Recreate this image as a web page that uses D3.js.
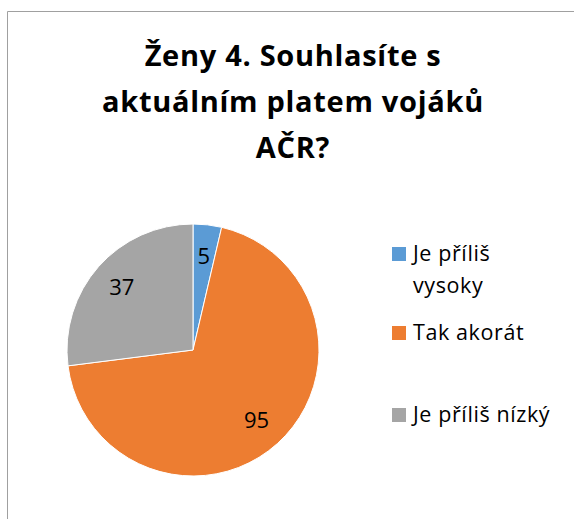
<!DOCTYPE html>
<html>
<head>
<meta charset="utf-8">
<script src="https://cdn.jsdelivr.net/npm/d3@7"></script>
<style>
  body { margin: 0; background: #fff; }
  svg text { font-family: "Open Sans", Lato, sans-serif; }
</style>
</head>
<body>
<svg id="chart" width="574" height="519"></svg>
<script>
// data
const categories = ["Je příliš vysoky", "Tak akorát", "Je příliš nízký"];
const values = [5, 95, 37];
const colors = ["#5b9bd5", "#ed7d31", "#a5a5a5"];
const titleLines = ["Ženy 4. Souhlasíte s", "aktuálním platem vojáků", "AČR?"];
const legendLines = [["Je příliš", "vysoky"], ["Tak akorát"], ["Je příliš nízký"]];

const svg = d3.select('#chart');

// frame (only left + top edge visible in the crop)
svg.append('path')
    .attr('d', 'M7.5,519 L7.5,11.5 L574,11.5')
    .attr('fill', 'none')
    .attr('stroke', '#a0a0a0')
    .attr('stroke-width', 1);

// title
svg.append('g').selectAll('text')
    .data(titleLines)
    .enter()
    .append('text')
    .attr('x', 293)
    .attr('y', (d, i) => 66 + i * 46)
    .attr('text-anchor', 'middle')
    .attr('font-size', 29)
    .attr('font-weight', 'bold')
    .attr('letter-spacing', 0.7)
    .attr('fill', '#000')
    .text(d => d);

// pie
const cx = 193, cy = 350, radius = 126;
const pie = d3.pie().sort(null).value(d => d)(values);
const arc = d3.arc().innerRadius(0).outerRadius(radius);
const labelArc = d3.arc().innerRadius(95).outerRadius(95);

const g = svg.append('g').attr('transform', `translate(${cx},${cy})`);

g.selectAll('path.slice')
    .data(pie)
    .enter()
    .append('path')
    .attr('class', 'slice')
    .attr('d', arc)
    .attr('fill', (d, i) => colors[i])
    .attr('stroke', '#fff')
    .attr('stroke-width', 1);

g.selectAll('text.lbl')
    .data(pie)
    .enter()
    .append('text')
    .attr('class', 'lbl')
    .attr('transform', d => `translate(${labelArc.centroid(d)})`)
    .attr('text-anchor', 'middle')
    .attr('dy', '0.36em')
    .attr('font-size', 22)
    .attr('fill', '#000')
    .text(d => d.data);

// legend (y = text baseline of first line)
const legendY = [261, 340, 422];
const items = svg.append('g').selectAll('g.item')
    .data(categories)
    .enter()
    .append('g')
    .attr('class', 'item')
    .attr('transform', (d, i) => `translate(392,${legendY[i]})`);

items.append('rect')
    .attr('x', 0)
    .attr('y', -14)
    .attr('width', 14)
    .attr('height', 14)
    .attr('fill', (d, i) => colors[i]);

items.each(function(d, i) {
    const t = d3.select(this).append('text')
        .attr('font-size', 21.5)
        .attr('letter-spacing', 0.6)
        .attr('fill', '#000');
    legendLines[i].forEach((line, j) => {
        t.append('tspan')
            .attr('x', 21)
            .attr('y', j * 32)
            .text(line);
    });
});
</script>
</body>
</html>
